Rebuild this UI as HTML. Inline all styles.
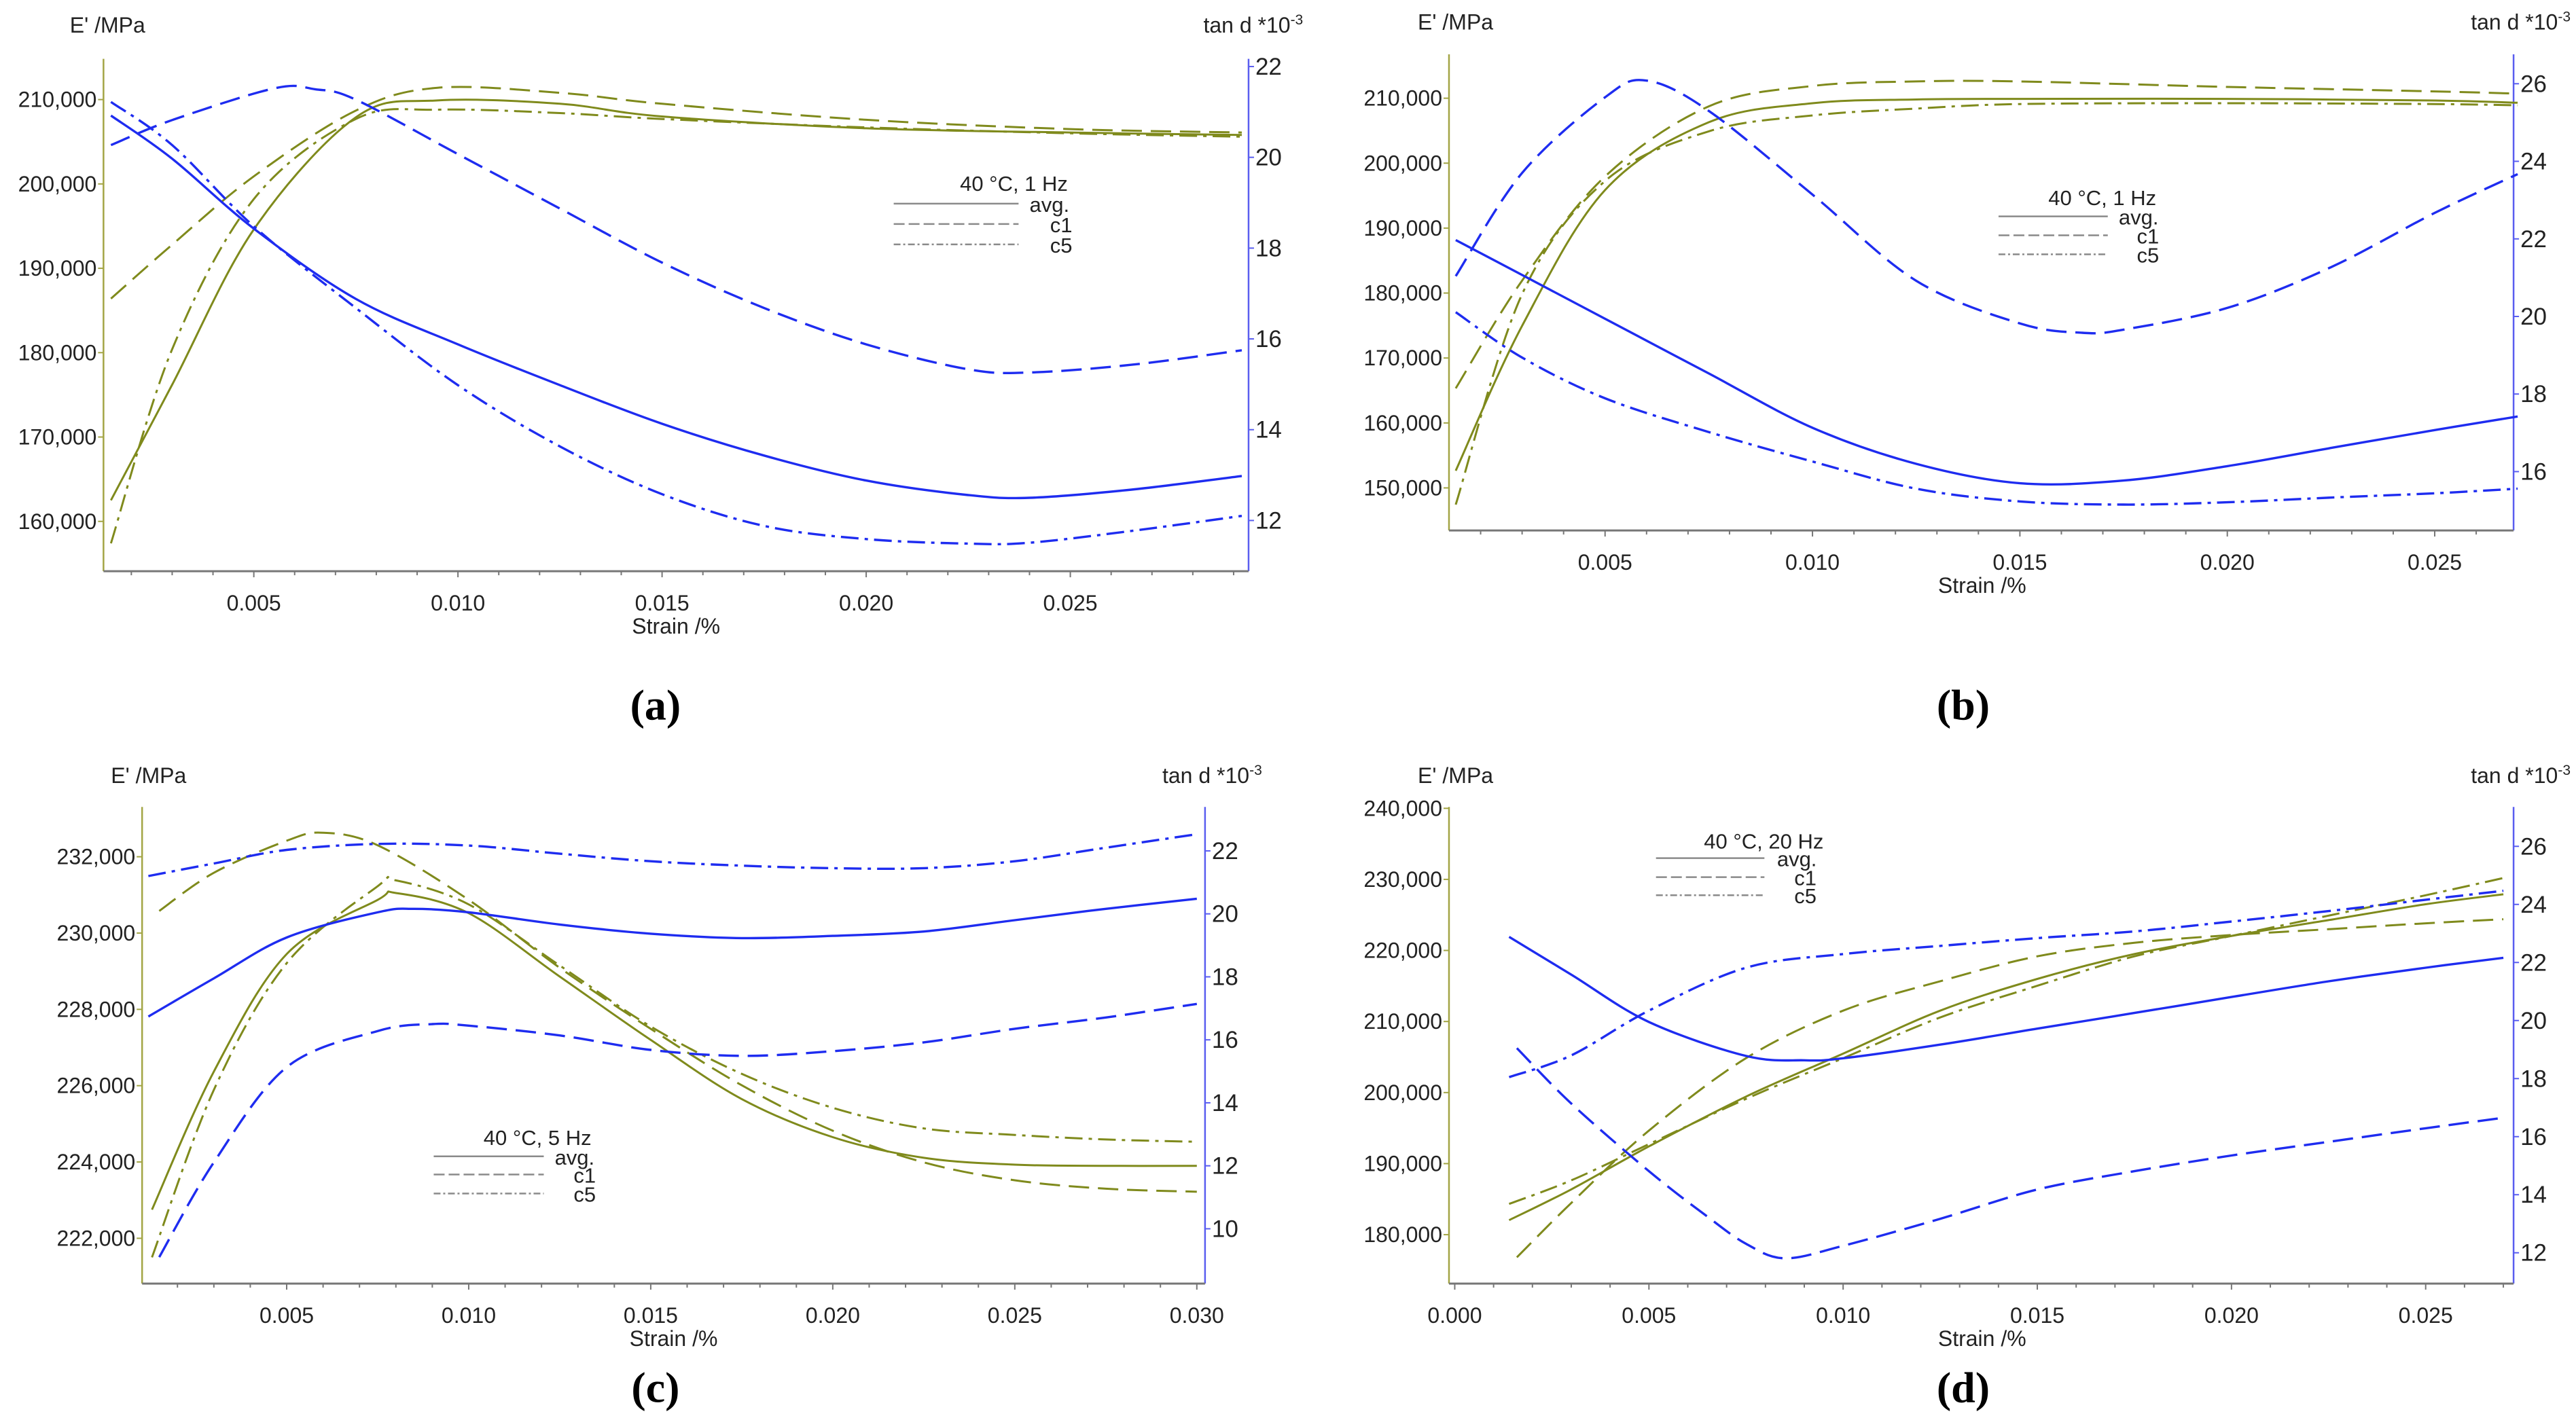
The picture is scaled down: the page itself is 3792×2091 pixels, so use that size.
<!DOCTYPE html>
<html><head><meta charset="utf-8"><title>DMA strain sweeps</title>
<style>
html,body{margin:0;padding:0;background:#fff;}
svg{display:block;}
text{font-family:"Liberation Sans Narrow","Liberation Sans",sans-serif;fill:#222;}
.cap{font-family:"Liberation Serif",serif;font-weight:bold;font-size:64px;fill:#000;}
</style></head>
<body>
<svg id="fig" width="3792" height="2091" viewBox="0 0 3792 2091" xmlns="http://www.w3.org/2000/svg">
<rect width="3792" height="2091" fill="#fff"/>
</svg>
<script>
// ---------- DATA ----------
// Panel a: 40 °C, 1 Hz
const aS_E=[0.0015,0.003,0.005,0.0075,0.0095,0.0125,0.015,0.02,0.025,0.0292];
const aE_avg=[162500,176200,194600,207900,209900,209500,208000,206600,206100,205800];
const aE_c1=[186400,192800,200900,208700,211400,210800,209500,207600,206500,206100];
const aE_c5=[157400,180400,198200,207700,208800,208400,207700,206700,206000,205600];
const aS_T=[0.0015,0.003,0.005,0.0075,0.01,0.0125,0.015,0.0175,0.02,0.0225,0.024,0.0265,0.0292];
const aT_avg=[20.92,19.97,18.43,16.88,15.88,14.98,14.13,13.43,12.88,12.56,12.50,12.68,12.98];
const aT_c5=[21.22,20.27,18.48,16.68,14.98,13.63,12.58,11.88,11.59,11.49,11.51,11.77,12.1];
const aS_Tc1=[0.0015,0.003,0.0055,0.0065,0.0075,0.01,0.0125,0.015,0.0175,0.02,0.0225,0.024,0.0265,0.0292];
const aT_c1=[20.27,20.82,21.52,21.5,21.27,20.07,18.87,17.68,16.68,15.88,15.33,15.26,15.43,15.75];
// Panel b: 40 °C, 1 Hz
const bS_E=[0.0014,0.003,0.005,0.0075,0.01,0.0125,0.015,0.02,0.025,0.027];
const bE_avg=[152650,174950,195850,206300,209230,209800,209900,209900,209650,209300];
const bE_c1=[165330,181920,197950,208750,211880,212580,212580,211740,211050,210700];
const bE_c5=[147420,179830,197250,204900,207350,208400,209100,209230,209100,208900];
const bS_T=[0.0014,0.003,0.005,0.0075,0.01,0.0125,0.015,0.0175,0.02,0.0225,0.025,0.027];
const bT_avg=[21.97,21.07,19.94,18.53,17.13,16.20,15.70,15.77,16.14,16.61,17.07,17.42];
const bT_c5=[20.11,18.94,17.89,17.02,16.26,15.56,15.23,15.15,15.21,15.33,15.44,15.56];
const bS_Tc1=[0.0014,0.003,0.005,0.006,0.0075,0.01,0.0125,0.015,0.0165,0.0175,0.02,0.0225,0.025,0.027];
const bT_c1=[21.04,23.7,25.65,26.08,25.30,23.14,20.92,19.82,19.58,19.66,20.22,21.27,22.67,23.67];
// Panel c: 40 °C, 5 Hz
const cS_E=[0.0013,0.003,0.005,0.0075,0.008,0.01,0.0125,0.015,0.0175,0.02,0.0225,0.025,0.0275,0.03];
const cE_avg=[222750,226370,229450,230870,231050,230520,228860,227200,225650,224650,224110,223930,223900,223900];
const cE_c5=[221500,225890,229210,231230,231380,230750,229150,227550,226310,225420,224880,224710,224590,224530];
const cS_Ec1=[0.0015,0.003,0.005,0.006,0.0075,0.01,0.0125,0.015,0.0175,0.02,0.0225,0.025,0.0275,0.03];
const cE_c1=[230580,231580,232420,232630,232300,230870,229090,227490,226010,224820,223990,223520,223300,223220];
const cS_Tavg=[0.0012,0.003,0.005,0.0075,0.0085,0.01,0.0125,0.015,0.0175,0.02,0.0225,0.025,0.0275,0.03];
const cT_avg=[16.74,17.95,19.25,20.05,20.16,20.05,19.66,19.37,19.23,19.30,19.44,19.80,20.16,20.48];
const cS_Tc1=[0.0015,0.003,0.005,0.0075,0.009,0.01,0.0125,0.015,0.0175,0.02,0.0225,0.025,0.0275,0.03];
const cT_c1=[9.10,12.11,15.13,16.28,16.50,16.45,16.14,15.68,15.49,15.64,15.92,16.35,16.71,17.14];
const cS_Tc5=[0.0012,0.003,0.005,0.0075,0.01,0.0125,0.015,0.0175,0.02,0.0225,0.025,0.0275,0.03];
const cT_c5=[21.20,21.60,22.03,22.22,22.17,21.91,21.67,21.53,21.45,21.45,21.67,22.10,22.53];
// Panel d: 40 °C, 20 Hz
const dS_E=[0.0014,0.003,0.005,0.0075,0.01,0.0125,0.015,0.0175,0.02,0.0225,0.025,0.027];
const dE_avg=[182040,186370,192420,199430,205480,211530,215990,219490,222040,224270,226500,227900];
const dE_c5=[184330,187640,192740,199110,204840,210570,215030,219170,222040,224900,227770,230190];
const dS_Ec1=[0.0016,0.003,0.005,0.0075,0.01,0.0125,0.015,0.0175,0.02,0.0225,0.025,0.027];
const dE_c1=[176820,184460,194650,204840,211530,215670,219170,221080,222170,222990,223820,224390];
const dS_Tavg=[0.0014,0.003,0.005,0.0075,0.009,0.01,0.0125,0.015,0.0175,0.02,0.0225,0.025,0.027];
const dT_avg=[22.88,21.58,19.95,18.78,18.63,18.70,19.17,19.72,20.26,20.81,21.35,21.82,22.16];
const dS_Tc1=[0.0016,0.003,0.005,0.0065,0.0075,0.0085,0.01,0.0125,0.015,0.0175,0.02,0.0225,0.025,0.027];
const dT_c1=[19.05,17.14,14.81,13.25,12.31,11.81,12.24,13.17,14.18,14.81,15.35,15.82,16.29,16.65];
const dT_c5=[18.05,18.80,20.34,21.82,22.29,22.57,22.84,23.07,23.41,23.77,24.16,24.47];
// Tick labels
const aXT=[0.005,0.010,0.015,0.020,0.025], aET=[160000,170000,180000,190000,200000,210000], aTT=[12,14,16,18,20,22];
const bXT=[0.005,0.010,0.015,0.020,0.025], bET=[150000,160000,170000,180000,190000,200000,210000], bTT=[16,18,20,22,24,26];
const cXT=[0.005,0.010,0.015,0.020,0.025,0.030], cET=[222000,224000,226000,228000,230000,232000], cTT=[10,12,14,16,18,20,22];
const dXT=[0.000,0.005,0.010,0.015,0.020,0.025], dET=[180000,190000,200000,210000,220000,230000,240000], dTT=[12,14,16,18,20,22,24,26];
const aTitle="40 °C, 1 Hz", bTitle="40 °C, 1 Hz", cTitle="40 °C, 5 Hz", dTitle="40 °C, 20 Hz";

// ---------- RENDERING ----------
const NS="http://www.w3.org/2000/svg";
const svg=document.getElementById('fig');
const OLIVE="#7f8a1c", BLUE="#1e2cf0";
const DASH="30 13", DDOT="26 9 5 9";
function mk(tag,attrs,parent){const e=document.createElementNS(NS,tag);for(const k in attrs)e.setAttribute(k,attrs[k]);(parent||svg).appendChild(e);return e;}
function fmtE(v){return v.toLocaleString('en-US');}
function smooth(pts){let d="M"+pts[0][0].toFixed(1)+","+pts[0][1].toFixed(1);
 for(let i=0;i<pts.length-1;i++){const p0=pts[Math.max(0,i-1)],p1=pts[i],p2=pts[i+1],p3=pts[Math.min(pts.length-1,i+2)];
  const c1x=p1[0]+(p2[0]-p0[0])/6,c1y=p1[1]+(p2[1]-p0[1])/6,c2x=p2[0]-(p3[0]-p1[0])/6,c2y=p2[1]-(p3[1]-p1[1])/6;
  d+=" C"+c1x.toFixed(1)+","+c1y.toFixed(1)+" "+c2x.toFixed(1)+","+c2y.toFixed(1)+" "+p2[0].toFixed(1)+","+p2[1].toFixed(1);}
 return d;}
const KX=1896/1568, KY=1045/1568;
function panel(cfg){
 const g=mk('g',{});
 
 
 const ox=cfg.off[0], oy=cfg.off[1];
 const PX=zx=>ox+zx*KX, PY=zy=>oy+zy*KY;
 const L=PX(cfg.box[0]),T=PY(cfg.box[1]),R=PX(cfg.box[2]),B=PY(cfg.box[3]);
 const xs=s=>PX(cfg.xs[1]+(s-cfg.xs[0])/(cfg.xs[2]-cfg.xs[0])*(cfg.xs[3]-cfg.xs[1]));
 const yE=v=>PY(cfg.el[1]+(v-cfg.el[0])/(cfg.el[2]-cfg.el[0])*(cfg.el[3]-cfg.el[1]));
 const yT=v=>PY(cfg.tr[1]+(v-cfg.tr[0])/(cfg.tr[2]-cfg.tr[0])*(cfg.tr[3]-cfg.tr[1]));
 let e=mk('line',{x1:L,y1:T,x2:L,y2:B,stroke:"#a3a545","stroke-width":2.5},g);
 
 e=mk('line',{x1:R,y1:T,x2:R,y2:B,stroke:"#5a5ef0","stroke-width":2.5},g);
 
 e=mk('line',{x1:L,y1:B,x2:R,y2:B,stroke:"#777","stroke-width":3},g);
 
 const s0=(cfg.xs[0]-(cfg.xs[1]-cfg.box[0])/(cfg.xs[3]-cfg.xs[1])*(cfg.xs[2]-cfg.xs[0]));
 for(let k=Math.ceil(s0*1000);;k++){const s=k/1000,x=xs(s);if(x>R)break;if(x<L)continue;
  const major=(k%5===0);mk('line',{x1:x,y1:B,x2:x,y2:B+(major?9:6),stroke:"#777","stroke-width":2},g);}
 cfg.xt.forEach(s=>{const t=mk('text',{x:xs(s),y:B+58,"font-size":32,"text-anchor":"middle"},g);t.textContent=s.toFixed(3);
  });
 cfg.et.forEach(v=>{const y=yE(v);mk('line',{x1:L-8,y1:y,x2:L,y2:y,stroke:"#a3a545","stroke-width":2},g);
  const t=mk('text',{x:L-10,y:y+11,"font-size":32,"text-anchor":"end"},g);t.textContent=fmtE(v);
  });
 cfg.tt.forEach(v=>{const y=yT(v);mk('line',{x1:R,y1:y,x2:R+8,y2:y,stroke:"#5a5ef0","stroke-width":2},g);
  const t=mk('text',{x:R+10,y:y+12,"font-size":35,"text-anchor":"start"},g);t.textContent=v;
  });
 let t=mk('text',{x:PX(cfg.ylab[0]),y:PY(cfg.ylab[1])+10,"font-size":32},g);t.textContent="E' /MPa";
 
 t=mk('text',{x:PX(cfg.rlab[0]),y:PY(cfg.rlab[1])+10,"font-size":32},g);
 
 t.appendChild(document.createTextNode("tan d *10"));
 const sup=mk('tspan',{"font-size":21,dy:-12},t);sup.textContent="-3";
 t=mk('text',{x:PX(cfg.xlab),y:B+92,"font-size":32,"text-anchor":"middle"},g);t.textContent="Strain /%";
 
 cfg.series.forEach(sr=>{const pts=sr.s.map((s,i)=>[xs(s),(sr.ax==='E'?yE:yT)(sr.v[i])]);
  const p=mk('path',{d:smooth(pts),fill:"none",stroke:sr.ax==='E'?OLIVE:BLUE,"stroke-width":sr.ax==='E'?3:3.4},g);
  if(sr.dash)p.setAttribute('stroke-dasharray',sr.dash);
  });
 const lg=mk('g',{},g);
 const Lg=cfg.leg;
 t=mk('text',{x:PX(Lg.tx),y:PY(Lg.ty)+11,"font-size":31,"text-anchor":"end"},lg);t.textContent=cfg.title;
 
 const names=["avg.","c1","c5"],dashes=[null,"16 6","10 4 3 4"];
 Lg.ys.forEach((yy,i)=>{const y=PY(yy);const ln=mk('line',{x1:PX(Lg.x1),y1:y,x2:PX(Lg.x2),y2:y,stroke:"#8a8a8a","stroke-width":2.5},lg);
  if(dashes[i])ln.setAttribute('stroke-dasharray',dashes[i]);
  
  const tx=mk('text',{x:PX(i===0?Lg.lx0:Lg.lx1)+4,y:y+12,"font-size":31},lg);tx.textContent=names[i];
  });
 t=mk('text',{x:PX(cfg.cap[0]),y:PY(cfg.cap[1]),"class":"cap","text-anchor":"middle"},g);t.textContent="("+cfg.id+")";
 
}
panel({id:'a',off:[0,0],box:[126,130,1520,1262],xs:[0.005,309,0.025,1303],el:[210000,220,160000,1152],tr:[22,147,12,1150],
 xt:aXT,et:aET,tt:aTT,ylab:[85,57],rlab:[1465,57],xlab:823,title:aTitle,cap:[798,1590],
 leg:{tx:1300,ty:405,x1:1088,x2:1240,ys:[450,495,540],lx0:1250,lx1:1275},
 series:[{ax:'E',s:aS_E,v:aE_avg,name:'a-storage-avg'},{ax:'E',s:aS_E,v:aE_c1,dash:DASH,name:'a-storage-c1'},{ax:'E',s:aS_E,v:aE_c5,dash:DDOT,name:'a-storage-c5'},
  {ax:'T',s:aS_T,v:aT_avg,name:'a-tand-avg'},{ax:'T',s:aS_Tc1,v:aT_c1,dash:DASH,name:'a-tand-c1'},{ax:'T',s:aS_T,v:aT_c5,dash:DDOT,name:'a-tand-c5'}]});
panel({id:'b',off:[1896,0],box:[196,120,1492,1172],xs:[0.005,386,0.025,1396],el:[210000,217,150000,1078],tr:[26,185,16,1042],
 xt:bXT,et:bET,tt:bTT,ylab:[158,50],rlab:[1440,50],xlab:845,title:bTitle,cap:[822,1590],
 leg:{tx:1057,ty:437,x1:865,x2:998,ys:[478,520,562],lx0:1008,lx1:1030},
 series:[{ax:'E',s:bS_E,v:bE_avg,name:'b-storage-avg'},{ax:'E',s:bS_E,v:bE_c1,dash:DASH,name:'b-storage-c1'},{ax:'E',s:bS_E,v:bE_c5,dash:DDOT,name:'b-storage-c5'},
  {ax:'T',s:bS_T,v:bT_avg,name:'b-tand-avg'},{ax:'T',s:bS_Tc1,v:bT_c1,dash:DASH,name:'b-tand-c1'},{ax:'T',s:bS_T,v:bT_c5,dash:DDOT,name:'b-tand-c5'}]});
panel({id:'c',off:[0,1045],box:[173,215,1467,1268],xs:[0.005,349,0.030,1457],el:[232000,325,222000,1168],tr:[22,312,10,1147],
 xt:cXT,et:cET,tt:cTT,ylab:[135,147],rlab:[1415,147],xlab:820,title:cTitle,cap:[798,1530],
 leg:{tx:720,ty:945,x1:528,x2:662,ys:[987,1027,1069],lx0:672,lx1:695},
 series:[{ax:'E',s:cS_E,v:cE_avg,name:'c-storage-avg'},{ax:'E',s:cS_Ec1,v:cE_c1,dash:DASH,name:'c-storage-c1'},{ax:'E',s:cS_E,v:cE_c5,dash:DDOT,name:'c-storage-c5'},
  {ax:'T',s:cS_Tavg,v:cT_avg,name:'c-tand-avg'},{ax:'T',s:cS_Tc1,v:cT_c1,dash:DASH,name:'c-tand-c1'},{ax:'T',s:cS_Tc5,v:cT_c5,dash:DDOT,name:'c-tand-c5'}]});
panel({id:'d',off:[1896,1045],box:[196,215,1492,1268],xs:[0.000,203,0.025,1385],el:[240000,218,180000,1160],tr:[26,302,12,1200],
 xt:dXT,et:dET,tt:dTT,ylab:[158,147],rlab:[1440,147],xlab:845,title:dTitle,cap:[822,1530],
 leg:{tx:652,ty:290,x1:448,x2:580,ys:[328,370,410],lx0:592,lx1:613},
 series:[{ax:'E',s:dS_E,v:dE_avg,name:'d-storage-avg'},{ax:'E',s:dS_Ec1,v:dE_c1,dash:DASH,name:'d-storage-c1'},{ax:'E',s:dS_E,v:dE_c5,dash:DDOT,name:'d-storage-c5'},
  {ax:'T',s:dS_Tavg,v:dT_avg,name:'d-tand-avg'},{ax:'T',s:dS_Tc1,v:dT_c1,dash:DASH,name:'d-tand-c1'},{ax:'T',s:dS_E,v:dT_c5,dash:DDOT,name:'d-tand-c5'}]});
</script>
</body></html>
